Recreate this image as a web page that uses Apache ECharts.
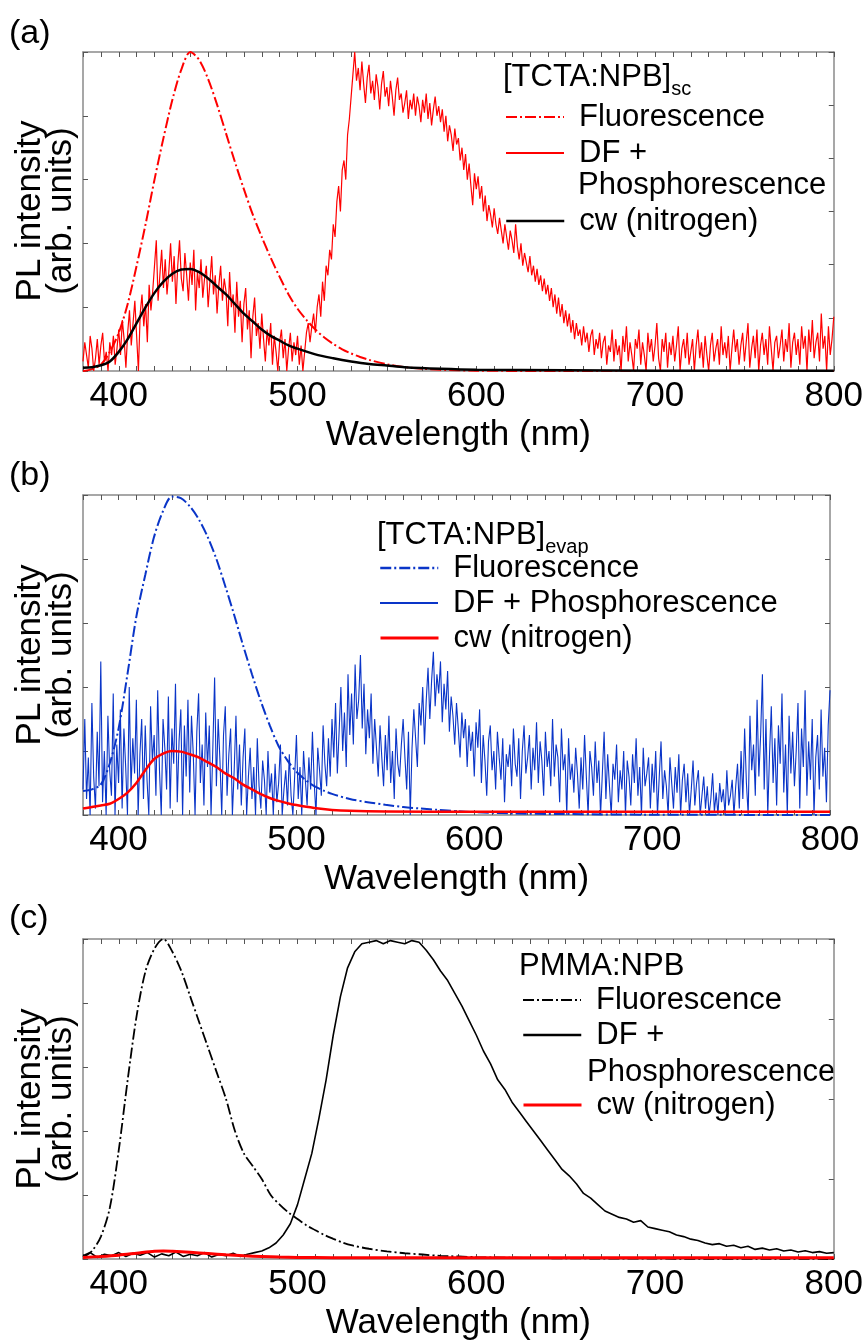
<!DOCTYPE html>
<html><head><meta charset="utf-8">
<script src="https://cdn.jsdelivr.net/npm/echarts@6/dist/echarts.min.js"></script>
<style>html,body{margin:0;padding:0;background:#fff}#c{width:866px;height:1342px}</style>
</head><body><div id="c"></div>
<script>
const FONT = '"Liberation Sans", Arial, sans-serif';
const xTickLabels = [400, 500, 600, 700, 800];
const xTitle = 'Wavelength (nm)';
const yTitle = 'PL intensity\n(arb. units)';
const panelLabels = ['(a)', '(b)', '(c)'];
const legendNames = ['Fluorescence', 'DF +', 'Phosphorescence', 'DF + Phosphorescence', 'cw (nitrogen)'];

// ---------- Panel (a) [TCTA:NPB]sc ----------
const aFlWl = [380,385,390,395,400,405,410,415,420,425,430,435,440,445,450,455,460,465,470,475,480,485,490,495,500,505,510,515,520,525,530,535,540,550,560,570,580,600,650,700,800];
const aFlVal = [0.0,0.006,0.02,0.06,0.12,0.21,0.33,0.46,0.6,0.73,0.85,0.945,1.0,0.975,0.915,0.835,0.745,0.655,0.57,0.49,0.42,0.355,0.295,0.24,0.195,0.16,0.13,0.105,0.085,0.068,0.055,0.044,0.035,0.021,0.012,0.007,0.004,0.001,0,0,0];
const aCwWl = [380,385,390,395,400,405,410,415,420,425,430,435,440,445,450,455,460,465,470,475,480,485,490,495,500,510,520,530,540,550,560,580,600,650,700,800];
const aCwVal = [0.01,0.012,0.018,0.03,0.06,0.1,0.15,0.2,0.245,0.28,0.305,0.318,0.32,0.31,0.29,0.265,0.24,0.21,0.18,0.155,0.13,0.11,0.095,0.08,0.07,0.052,0.04,0.03,0.022,0.017,0.012,0.007,0.004,0.002,0.001,0.001];
// DF + Phosphorescence, one value per nm from 380 to 800 (rows of 10 nm)
const aDfVal = [
0.03,0.09,0.05,0.01,0.11,0.07,0.00,0.04,0.10,0.02,
0.08,0.12,0.03,0.06,0.00,0.09,0.05,0.11,0.02,0.07,
0.13,0.05,0.16,0.10,0.01,0.12,0.19,0.08,0.15,0.22,
0.11,0.00,0.18,0.24,0.14,0.21,0.09,0.27,0.19,0.25,
0.33,0.41,0.22,0.30,0.38,0.26,0.35,0.24,0.31,0.40,
0.28,0.36,0.21,0.33,0.41,0.29,0.25,0.37,0.30,0.22,
0.34,0.27,0.38,0.19,0.31,0.26,0.35,0.23,0.29,0.33,
0.20,0.28,0.36,0.24,0.30,0.18,0.27,0.33,0.22,0.29,
0.25,0.14,0.31,0.20,0.24,0.12,0.28,0.17,0.22,0.09,
0.21,0.26,0.13,0.19,0.04,0.17,0.23,0.11,0.15,0.07,
0.18,0.10,0.03,0.13,0.08,0.15,0.02,0.11,0.06,0.00,
0.09,0.13,0.04,0.10,0.00,0.07,0.12,0.03,0.09,0.05,
0.11,0.02,0.08,0.00,0.06,0.12,0.15,0.09,0.14,0.18,
0.12,0.20,0.24,0.17,0.28,0.22,0.33,0.30,0.38,0.35,
0.46,0.42,0.53,0.58,0.50,0.63,0.66,0.60,0.74,0.79,
0.86,0.93,1.00,0.91,0.95,0.88,0.97,0.90,0.84,0.92,
0.96,0.87,0.91,0.85,0.93,0.89,0.82,0.90,0.94,0.86,
0.89,0.83,0.91,0.86,0.80,0.88,0.92,0.85,0.87,0.81,
0.84,0.88,0.79,0.85,0.82,0.87,0.80,0.86,0.83,0.78,
0.85,0.81,0.87,0.79,0.84,0.77,0.82,0.86,0.80,0.83,
0.78,0.82,0.75,0.80,0.72,0.77,0.74,0.69,0.76,0.71,
0.73,0.66,0.70,0.63,0.68,0.60,0.65,0.58,0.52,0.62,
0.57,0.61,0.54,0.58,0.50,0.55,0.47,0.52,0.49,0.45,
0.51,0.46,0.43,0.48,0.44,0.40,0.46,0.42,0.38,0.44,
0.41,0.37,0.46,0.39,0.35,0.40,0.33,0.37,0.34,0.31,
0.36,0.30,0.33,0.28,0.32,0.27,0.30,0.25,0.29,0.24,
0.27,0.22,0.26,0.20,0.24,0.18,0.23,0.17,0.21,0.15,
0.19,0.14,0.18,0.12,0.16,0.10,0.15,0.11,0.13,0.08,
0.14,0.09,0.12,0.06,0.11,0.13,0.05,0.10,0.07,0.12,
0.04,0.09,0.11,0.02,0.08,0.06,0.13,0.03,0.10,0.05,
0.08,0.00,0.11,0.06,0.14,0.03,0.09,0.05,0.00,0.10,
0.07,0.13,0.02,0.09,0.05,0.00,0.12,0.06,0.10,0.03,
0.08,0.15,0.04,0.00,0.10,0.06,0.12,0.01,0.09,0.05,
0.11,0.03,0.08,0.14,0.00,0.07,0.10,0.04,0.12,0.02,
0.06,0.10,0.00,0.08,0.13,0.04,0.09,0.01,0.11,0.05,
0.00,0.08,0.12,0.03,0.07,0.10,0.02,0.14,0.05,0.09,
0.04,0.11,0.00,0.07,0.13,0.06,0.10,0.02,0.08,0.12,
0.03,0.09,0.15,0.01,0.07,0.11,0.04,0.13,0.00,0.08,
0.12,0.05,0.10,0.02,0.14,0.07,0.00,0.09,0.11,0.04,
0.08,0.13,0.03,0.10,0.06,0.15,0.01,0.09,0.12,0.05,
0.10,0.02,0.14,0.07,0.11,0.00,0.13,0.06,0.16,0.04,
0.09,0.12,0.03,0.18,0.07,0.11,0.00,0.14,0.05,0.10,
0.17];

// ---------- Panel (b) [TCTA:NPB]evap ----------
const bFlWl = [380,385,390,395,400,405,410,415,420,425,430,435,440,445,450,455,460,465,470,475,480,485,490,495,500,505,510,515,520,530,540,550,560,570,580,590,600,620,650,700,800];
const bFlVal = [0.075,0.08,0.095,0.16,0.27,0.44,0.62,0.75,0.87,0.95,0.995,0.99,0.965,0.925,0.87,0.8,0.715,0.625,0.53,0.44,0.355,0.28,0.215,0.17,0.135,0.11,0.09,0.077,0.066,0.05,0.04,0.032,0.025,0.02,0.016,0.012,0.009,0.005,0.003,0.001,0.0];
const bCwWl = [380,385,390,395,400,405,410,415,420,425,430,435,440,445,450,455,460,465,470,475,480,485,490,495,500,510,520,530,550,600,800];
const bCwVal = [0.02,0.025,0.03,0.035,0.05,0.07,0.1,0.14,0.175,0.192,0.2,0.198,0.19,0.18,0.165,0.15,0.13,0.115,0.095,0.08,0.065,0.053,0.044,0.037,0.031,0.022,0.016,0.013,0.011,0.01,0.01];
// DF + Phosphorescence, one value per nm from 380 to 800 (rows of 10 nm)
const bDfVal = [
0.08,0.30,0.05,0.18,0.00,0.35,0.12,0.02,0.26,0.09,
0.48,0.04,0.20,0.00,0.31,0.14,0.06,0.38,0.00,0.22,
0.10,0.33,0.02,0.27,0.15,0.00,0.40,0.08,0.24,0.13,
0.36,0.00,0.19,0.30,0.05,0.28,0.11,0.00,0.34,0.17,
0.25,0.06,0.39,0.14,0.00,0.30,0.21,0.08,0.37,0.02,
0.27,0.16,0.41,0.04,0.23,0.33,0.00,0.28,0.12,0.36,
0.07,0.31,0.19,0.00,0.26,0.38,0.10,0.22,0.03,0.32,
0.15,0.28,0.00,0.21,0.43,0.09,0.30,0.17,0.00,0.25,
0.34,0.06,0.19,0.27,0.00,0.14,0.31,0.08,0.22,0.03,
0.18,0.27,0.00,0.12,0.21,0.05,0.15,0.00,0.24,0.09,
0.02,0.17,0.11,0.00,0.20,0.07,0.13,0.00,0.16,0.04,
0.10,0.22,0.00,0.08,0.14,0.03,0.19,0.06,0.00,0.12,
0.25,0.05,0.15,0.00,0.20,0.11,0.03,0.18,0.08,0.26,
0.10,0.00,0.21,0.14,0.06,0.28,0.16,0.09,0.24,0.12,
0.30,0.18,0.35,0.13,0.26,0.40,0.20,0.32,0.15,0.44,
0.25,0.38,0.22,0.47,0.30,0.36,0.50,0.27,0.41,0.19,
0.33,0.24,0.38,0.16,0.30,0.21,0.12,0.28,0.18,0.09,
0.25,0.14,0.31,0.10,0.20,0.05,0.27,0.16,0.12,0.22,
0.30,0.18,0.08,0.26,0.00,0.21,0.33,0.24,0.15,0.35,
0.28,0.40,0.22,0.36,0.46,0.30,0.42,0.51,0.34,0.44,
0.38,0.48,0.29,0.41,0.33,0.45,0.26,0.37,0.31,0.22,
0.35,0.27,0.18,0.32,0.24,0.30,0.15,0.28,0.20,0.26,
0.12,0.29,0.21,0.33,0.10,0.25,0.17,0.06,0.23,0.28,
0.14,0.20,0.08,0.26,0.18,0.11,0.24,0.04,0.19,0.15,
0.22,0.09,0.27,0.16,0.12,0.24,0.05,0.20,0.28,0.13,
0.18,0.25,0.08,0.21,0.14,0.29,0.10,0.23,0.17,0.06,
0.26,0.15,0.20,0.09,0.30,0.12,0.22,0.18,0.04,0.27,
0.14,0.19,0.00,0.24,0.11,0.16,0.07,0.21,0.13,0.02,
0.18,0.08,0.25,0.12,0.00,0.20,0.15,0.06,0.23,0.10,
0.17,0.00,0.13,0.26,0.05,0.19,0.09,0.00,0.16,0.11,
0.22,0.04,0.14,0.08,0.20,0.00,0.17,0.12,0.03,0.19,
0.10,0.24,0.06,0.15,0.00,0.21,0.09,0.13,0.18,0.02,
0.16,0.07,0.20,0.00,0.12,0.23,0.05,0.14,0.09,0.00,
0.18,0.10,0.02,0.15,0.07,0.19,0.00,0.11,0.16,0.04,
0.13,0.00,0.08,0.17,0.03,0.10,0.14,0.00,0.06,0.12,
0.02,0.09,0.00,0.05,0.13,0.01,0.07,0.00,0.10,0.04,
0.08,0.00,0.14,0.03,0.06,0.11,0.00,0.09,0.16,0.02,
0.20,0.05,0.27,0.10,0.00,0.31,0.14,0.22,0.06,0.36,
0.12,0.25,0.44,0.08,0.30,0.00,0.19,0.34,0.10,0.24,
0.03,0.28,0.16,0.38,0.07,0.22,0.00,0.31,0.13,0.26,
0.09,0.20,0.35,0.02,0.27,0.15,0.39,0.06,0.23,0.11,
0.30,0.00,0.18,0.25,0.08,0.33,0.12,0.21,0.04,0.28,
0.39];

// ---------- Panel (c) PMMA:NPB ----------
const cFlWl = [380,385,390,395,400,405,410,415,420,425,430,435,440,445,450,455,460,465,470,475,480,485,490,495,500,505,510,515,520,525,530,540,550,560,570,580,600,620,650,700,800];
const cFlVal = [0.005,0.025,0.07,0.16,0.34,0.56,0.76,0.9,0.97,1.0,0.96,0.9,0.82,0.74,0.66,0.58,0.5,0.4,0.33,0.29,0.25,0.2,0.17,0.145,0.125,0.105,0.09,0.075,0.063,0.052,0.043,0.032,0.024,0.018,0.014,0.01,0.006,0.004,0.002,0.001,0.0];
const cCwWl = [380,390,400,410,420,425,430,440,450,460,470,480,490,500,520,550,600,700,800];
const cCwVal = [0.005,0.008,0.012,0.018,0.024,0.025,0.024,0.021,0.017,0.013,0.01,0.008,0.006,0.005,0.004,0.004,0.004,0.004,0.004];
// DF + Phosphorescence, one value per 4 nm from 380 to 800
const cDfVal = [
0.01,0.02,0.005,0.015,0.01,0.02,0.008,0.018,0.012,0.02,0.006,0.016,0.01,0.022,0.008,0.015,0.01,0.02,0.006,0.014,0.01,0.018,0.008,0.015,0.02,
0.025,0.035,0.05,0.075,0.11,0.17,0.25,0.33,0.44,0.56,0.70,0.82,0.91,0.96,0.985,0.99,
0.995,0.985,0.995,0.99,0.985,0.995,0.99,0.965,0.935,
0.9,0.87,0.83,0.79,0.745,
0.7,0.65,0.61,0.56,0.53,0.49,0.46,0.43,0.4,0.37,
0.34,0.31,0.28,0.26,0.235,0.205,0.19,0.17,0.15,0.14,
0.13,0.125,0.115,0.12,0.1,0.095,0.09,0.085,0.075,0.07,
0.062,0.058,0.05,0.045,0.048,0.04,0.043,0.035,0.04,0.03,
0.034,0.028,0.032,0.025,0.028,0.022,0.026,0.02,0.023,0.018,
0.02];

function grid(start, step, n) { const a = []; for (let i = 0; i < n; i++) a.push(start + step * i); return a; }
const wl1 = grid(380, 1, aDfVal.length);
const wl4 = grid(380, 4, cDfVal.length);
const pairs = (xs, ys) => xs.map((x, i) => [x, ys[i]]);

const RED = '#ff0000', BLUE = '#0a35c8', BLACK = '#000000';
const DASHDOT = [11, 3, 2, 3];

const grids = [
  { left: 83, top: 52, width: 752, height: 319 },
  { left: 83, top: 495, width: 747, height: 320 },
  { left: 83, top: 939, width: 752, height: 320 }
];
const rightIntervals = [1/6, 0.2, 0.25];

const frameLine = { show: true, onZero: false, lineStyle: { color: '#8a8a8a', width: 1.5 } };
const tick = { show: true, inside: true, length: 5, lineStyle: { color: '#555', width: 1 } };

const xAxis = [], yAxis = [];
grids.forEach((g, gi) => {
  xAxis.push({ gridIndex: gi, type: 'value', min: 380, max: 800, interval: 10, position: 'bottom',
    axisLine: frameLine, axisTick: tick, splitLine: { show: false },
    axisLabel: { show: true, margin: 8, fontSize: 35, fontFamily: FONT, color: '#000',
      formatter: v => xTickLabels.includes(v) ? String(v) : '' },
    name: xTitle, nameLocation: 'middle', nameGap: 47,
    nameTextStyle: { fontSize: 35, fontFamily: FONT, color: '#000' } });
  xAxis.push({ gridIndex: gi, type: 'value', min: 380, max: 800, interval: 10, position: 'top',
    axisLine: frameLine, axisTick: tick, splitLine: { show: false }, axisLabel: { show: false } });
  yAxis.push({ gridIndex: gi, type: 'value', min: 0, max: 1, interval: 0.2, position: 'left',
    axisLine: frameLine, axisTick: tick, splitLine: { show: false }, axisLabel: { show: false } });
  yAxis.push({ gridIndex: gi, type: 'value', min: 0, max: 1, interval: rightIntervals[gi], position: 'right',
    axisLine: frameLine, axisTick: tick, splitLine: { show: false }, axisLabel: { show: false } });
});

function line(name, gi, data, color, width, dash, smooth, z) {
  return { name, type: 'line', xAxisIndex: gi * 2, yAxisIndex: gi * 2, data,
    symbol: 'none', showSymbol: false, smooth: smooth ? 0.3 : false, animation: false, z,
    lineStyle: { color, width, type: dash || 'solid' }, itemStyle: { color } };
}

const series = [
  line('a_df', 0, pairs(wl1, aDfVal), RED, 1.2, null, false, 2),
  line('a_fl', 0, pairs(aFlWl, aFlVal), RED, 2, DASHDOT, true, 3),
  line('a_cw', 0, pairs(aCwWl, aCwVal), BLACK, 2.5, null, true, 4),
  line('b_df', 1, pairs(wl1, bDfVal), BLUE, 1.1, null, false, 2),
  line('b_fl', 1, pairs(bFlWl, bFlVal), BLUE, 2, DASHDOT, true, 3),
  line('b_cw', 1, pairs(bCwWl, bCwVal), RED, 2.5, null, true, 4),
  line('c_df', 2, pairs(wl4, cDfVal), BLACK, 1.6, null, false, 2),
  line('c_fl', 2, pairs(cFlWl, cFlVal), BLACK, 1.8, DASHDOT, true, 3),
  line('c_cw', 2, pairs(cCwWl, cCwVal), RED, 3, null, true, 4)
];

function leg(name, label, left, cy, w) {
  return { show: true, data: [name], left, top: cy - 18, orient: 'vertical', padding: 0, itemGap: 0,
    itemWidth: 58, itemHeight: 14, selectedMode: false, formatter: () => label,
    lineStyle: { width: w },
    itemStyle: { opacity: 0, color: 'rgba(0,0,0,0)', borderWidth: 0 },
    textStyle: { fontSize: 31, fontFamily: FONT, color: '#000', lineHeight: 36, padding: [0, 0, 0, 10] } };
}
const legend = [
  leg('a_fl', legendNames[0], 505, 117, 2), leg('a_df', legendNames[1], 505, 153, 2), leg('a_cw', legendNames[4], 505, 221, 2.5),
  leg('b_fl', legendNames[0], 379, 568, 2.5), leg('b_df', legendNames[3], 379, 603, 2), leg('b_cw', legendNames[4], 379, 638, 3),
  leg('c_fl', legendNames[0], 522, 1000, 2), leg('c_df', legendNames[1], 522, 1035, 2.5), leg('c_cw', legendNames[4], 522, 1105, 3)
];

function txt(x, y, text, size, extra) {
  return Object.assign({ type: 'text', x, y, silent: true,
    style: { text, fontSize: size, fontFamily: FONT, fill: '#000', align: 'left', verticalAlign: 'middle' } }, extra || {});
}
const ytitleCenters = [211, 655, 1099];
const graphic = [];
[34, 476, 919].forEach((y, i) => graphic.push(txt(9, y, panelLabels[i], 34)));
ytitleCenters.forEach(y => graphic.push({ type: 'text', x: 46, y, rotation: Math.PI / 2, silent: true,
  style: { text: yTitle, fontSize: 35, fontFamily: FONT, fill: '#000', align: 'center', verticalAlign: 'middle', lineHeight: 31 } }));
function header(x, y, main, sub) {
  return { type: 'text', x, y, silent: true, style: {
    text: sub ? '{m|' + main + '}{s|' + sub + '}' : '{m|' + main + '}',
    fontFamily: FONT, fill: '#000', align: 'left', verticalAlign: 'middle',
    rich: { m: { fontSize: 31, fontFamily: FONT, lineHeight: 44, verticalAlign: 'middle' },
            s: { fontSize: 20, fontFamily: FONT, lineHeight: 20, verticalAlign: 'bottom' } } } };
}
graphic.push(header(503, 77, '[TCTA:NPB]', 'sc'));
graphic.push(header(377, 535, '[TCTA:NPB]', 'evap'));
graphic.push(header(519, 966, 'PMMA:NPB', null));
graphic.push(txt(578, 185, legendNames[2], 31));
graphic.push(txt(587, 1072, legendNames[2], 31));

const chart = echarts.init(document.getElementById('c'), null, { renderer: 'canvas' });
chart.setOption({ backgroundColor: '#fff', animation: false, grid: grids, xAxis, yAxis, series, legend, graphic });
</script></body></html>
